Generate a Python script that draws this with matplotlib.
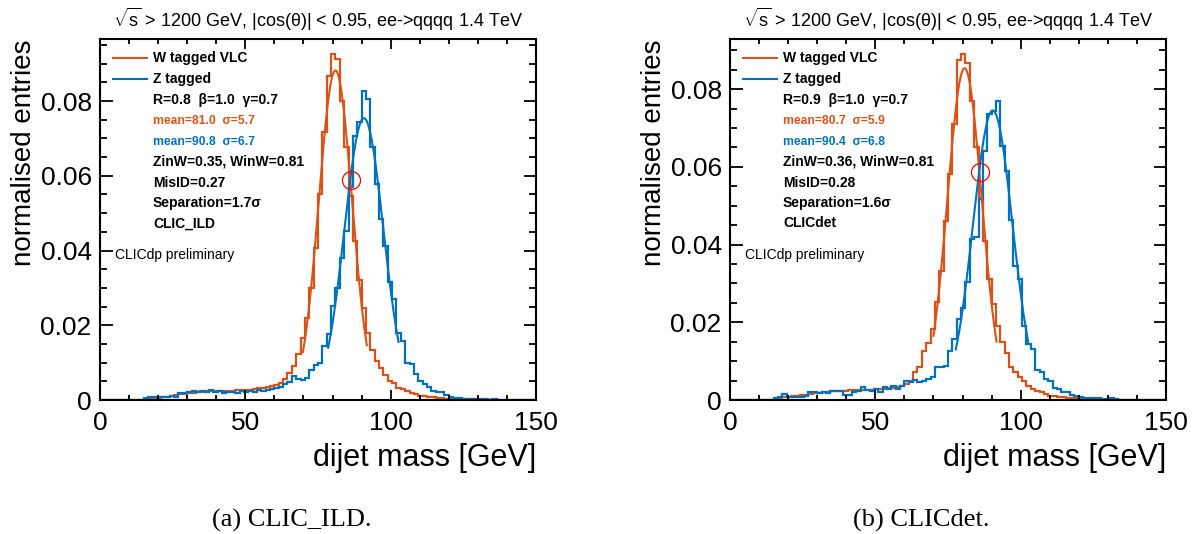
import numpy as np
import matplotlib
matplotlib.use("Agg")
import matplotlib.pyplot as plt
from matplotlib.ticker import MultipleLocator

plt.rcParams['font.family'] = ['Liberation Sans', 'DejaVu Sans']
plt.rcParams['mathtext.fontset'] = 'custom'
plt.rcParams['mathtext.rm'] = 'Liberation Sans'
plt.rcParams['mathtext.it'] = 'Liberation Sans:italic'
plt.rcParams['mathtext.bf'] = 'Liberation Sans:bold'

# ---------------- data ----------------
bin_edges = np.linspace(0, 150, 101)  # 100 bins of 1.5 GeV

W_ILD = [0]*10 + [
    0.0001, 0.0003, 0.0005, 0.0006, 0.0007, 0.0009, 0.0011, 0.0013, 0.0015, 0.0017,
    0.0018, 0.0020, 0.0021, 0.0022, 0.0023, 0.0024, 0.0024, 0.0024, 0.0025, 0.0025,
    0.0025, 0.0026, 0.0026, 0.0027, 0.0028, 0.0030, 0.0031, 0.0033, 0.0035, 0.0037,
    0.0040, 0.0046, 0.0055, 0.0073, 0.0092, 0.0122, 0.0166, 0.0220, 0.0301, 0.0408,
    0.0551, 0.0716, 0.0868, 0.0926, 0.0913, 0.0801, 0.0676, 0.0547, 0.0426, 0.0322,
    0.0247, 0.0180, 0.0135, 0.0104, 0.0086, 0.0068, 0.0051, 0.0046, 0.0033, 0.0029,
    0.0024, 0.0020, 0.0015, 0.0012, 0.0010, 0.0009, 0.0008, 0.0006, 0.0005, 0.0004,
    0.0004, 0.0003, 0.0003, 0.0002, 0.0002, 0.0002, 0.0001, 0.0001, 0.0001, 0.0001,
    0.0001, 0.0001, 0.0001, 0, 0, 0, 0, 0, 0, 0]

Z_ILD = [0]*10 + [
    0.0006, 0.0008, 0.0007, 0.0008, 0.0009, 0.0008, 0.0010, 0.0009, 0.0019, 0.0020,
    0.0021, 0.0024, 0.0022, 0.0023, 0.0021, 0.0026, 0.0022, 0.0024, 0.0020, 0.0021,
    0.0022, 0.0019, 0.0023, 0.0021, 0.0024, 0.0022, 0.0026, 0.0024, 0.0027, 0.0030,
    0.0033, 0.0036, 0.0042, 0.0048, 0.0065, 0.0055, 0.0053, 0.0058, 0.0080, 0.0093,
    0.0100, 0.0145, 0.0176, 0.0252, 0.0301, 0.0381, 0.0453, 0.0569, 0.0707, 0.0743,
    0.0828, 0.0806, 0.0676, 0.0578, 0.0483, 0.0412, 0.0315, 0.0270, 0.0180, 0.0158,
    0.0098, 0.0096, 0.0070, 0.0052, 0.0044, 0.0035, 0.0025, 0.0022, 0.0022, 0.0013,
    0.0008, 0.0006, 0.0005, 0.0004, 0.0003, 0.0003, 0.0002, 0.0003, 0.0002, 0.0001,
    0.0002, 0.0001, 0.0001, 0.0001, 0.0001, 0, 0.0001, 0, 0, 0]

W_DET = [0]*10 + [
    0.0001, 0.0004, 0.0007, 0.0009, 0.0010, 0.0011, 0.0012, 0.0014, 0.0016, 0.0018,
    0.0019, 0.0020, 0.0021, 0.0022, 0.0023, 0.0024, 0.0024, 0.0025, 0.0025, 0.0026,
    0.0026, 0.0027, 0.0027, 0.0028, 0.0028, 0.0029, 0.0030, 0.0031, 0.0033, 0.0036,
    0.0041, 0.0048, 0.0071, 0.0084, 0.0125, 0.0146, 0.0183, 0.0252, 0.0333, 0.0460,
    0.0582, 0.0710, 0.0876, 0.0891, 0.0867, 0.0770, 0.0650, 0.0521, 0.0410, 0.0312,
    0.0247, 0.0191, 0.0150, 0.0122, 0.0084, 0.0071, 0.0058, 0.0050, 0.0037, 0.0028,
    0.0024, 0.0020, 0.0016, 0.0011, 0.0010, 0.0008, 0.0007, 0.0006, 0.0005, 0.0004,
    0.0004, 0.0003, 0.0003, 0.0002, 0.0002, 0.0001, 0.0001, 0.0001, 0.0001, 0.0001,
    0.0001, 0.0001, 0.0001, 0, 0, 0, 0, 0, 0, 0]

Z_DET = [0]*10 + [
    0.0004, 0.0008, 0.0016, 0.0009, 0.0009, 0.0008, 0.0009, 0.0010, 0.0020, 0.0021,
    0.0019, 0.0020, 0.0019, 0.0022, 0.0023, 0.0024, 0.0013, 0.0014, 0.0021, 0.0022,
    0.0033, 0.0025, 0.0024, 0.0028, 0.0020, 0.0033, 0.0029, 0.0035, 0.0028, 0.0036,
    0.0050, 0.0046, 0.0052, 0.0046, 0.0050, 0.0054, 0.0060, 0.0084, 0.0084, 0.0088,
    0.0127, 0.0157, 0.0208, 0.0238, 0.0303, 0.0414, 0.0420, 0.0517, 0.0640, 0.0735,
    0.0745, 0.0770, 0.0654, 0.0590, 0.0462, 0.0346, 0.0312, 0.0191, 0.0144, 0.0131,
    0.0076, 0.0072, 0.0054, 0.0050, 0.0030, 0.0028, 0.0020, 0.0020, 0.0012, 0.0011,
    0.0008, 0.0006, 0.0005, 0.0004, 0.0004, 0.0003, 0.0002, 0.0004, 0.0002, 0.0001,
    0.0001, 0.0001, 0.0001, 0.0001, 0.0001, 0.0001, 0, 0, 0, 0]

# gaussian fit parameters: mean, sigma, amplitude, range lo, range hi
FIT_W_ILD = [81.0, 5.7, 0.0882, 69.8, 91.8]
FIT_Z_ILD = [90.8, 6.7, 0.0754, 78.5, 102.7]
FIT_W_DET = [80.7, 5.9, 0.0854, 70.0, 91.7]
FIT_Z_DET = [90.4, 6.8, 0.0745, 77.7, 102.6]

# crossing markers (x, y)
CROSS_ILD = [86.2, 0.0590]
CROSS_DET = [86.0, 0.0587]

YMAX = [0.0966, 0.0929]

TITLE = r"$\sqrt{\mathrm{s}}$ > 1200 GeV, |cos(θ)| < 0.95, ee->qqqq 1.4 TeV"
LEG_W = "W tagged VLC"
LEG_Z = "Z tagged"
INFO_ILD = ["R=0.8  β=1.0  γ=0.7", "mean=81.0  σ=5.7", "mean=90.8  σ=6.7",
            "ZinW=0.35, WinW=0.81", "MisID=0.27", "Separation=1.7σ", "CLIC_ILD"]
INFO_DET = ["R=0.9  β=1.0  γ=0.7", "mean=80.7  σ=5.9", "mean=90.4  σ=6.8",
            "ZinW=0.36, WinW=0.81", "MisID=0.28", "Separation=1.6σ", "CLICdet"]
CAPTIONS = ["(a) CLIC_ILD.", "(b) CLICdet."]

ORANGE = "#D95319"
BLUE = "#0072BD"

# ---------------- figure ----------------
W, H = 1195, 534
fig = plt.figure(figsize=(W/100, H/100), dpi=100)

panels = [
    dict(left=100, W_=W_ILD, Z_=Z_ILD, fw=FIT_W_ILD, fz=FIT_Z_ILD, cross=CROSS_ILD,
         ymax=YMAX[0], info=INFO_ILD, cap=CAPTIONS[0], capx=292),
    dict(left=730, W_=W_DET, Z_=Z_DET, fw=FIT_W_DET, fz=FIT_Z_DET, cross=CROSS_DET,
         ymax=YMAX[1], info=INFO_DET, cap=CAPTIONS[1], capx=921),
]

top_px, bot_px, width_px = 39, 400, 436

for p in panels:
    ax = fig.add_axes([p['left']/W, 1 - bot_px/H, width_px/W, (bot_px - top_px)/H])
    ax.stairs(p['W_'], bin_edges, color=ORANGE, lw=1.6)
    ax.stairs(p['Z_'], bin_edges, color=BLUE, lw=1.6)
    for fit, col in ((p['fw'], ORANGE), (p['fz'], BLUE)):
        m, s, a, lo, hi = fit
        xx = np.linspace(lo, hi, 200)
        ax.plot(xx, a*np.exp(-0.5*((xx - m)/s)**2), color=col, lw=1.5)
    ax.plot([p['cross'][0]], [p['cross'][1]], 'o', ms=13, mfc='none', mec='red', mew=0.9)

    ax.set_xlim(0, 150)
    ax.set_ylim(0, p['ymax'])
    ax.xaxis.set_major_locator(MultipleLocator(50))
    ax.xaxis.set_minor_locator(MultipleLocator(10))
    ax.yaxis.set_major_locator(MultipleLocator(0.02))
    ax.yaxis.set_minor_locator(MultipleLocator(0.005))
    ax.set_xticks([0, 50, 100, 150])
    ax.set_xticklabels(['0', '50', '100', '150'])
    ax.set_yticks([0, 0.02, 0.04, 0.06, 0.08])
    ax.set_yticklabels(['0', '0.02', '0.04', '0.06', '0.08'])
    ax.tick_params(which='both', direction='in', top=True, right=True, width=1.3, labelsize=19)
    ax.tick_params(axis='x', which='major', length=7.5, pad=8)
    ax.tick_params(axis='x', which='minor', length=3.8)
    ax.tick_params(axis='y', which='major', length=9, pad=6)
    ax.tick_params(axis='y', which='minor', length=5)
    for sp in ax.spines.values():
        sp.set_linewidth(1.5)

    ax.set_xlabel("dijet mass [GeV]", fontsize=22, loc='right')
    ax.xaxis.set_label_coords(1.0, -0.12)
    ax.set_ylabel("normalised entries", fontsize=20, loc='top')
    ax.yaxis.set_label_coords(-0.145, 1.0)

    ax.set_title(TITLE, fontsize=13, y=(bot_px - 27)/(bot_px - top_px), pad=0,
                 va='baseline')

    tr = ax.transAxes
    def yf(py):
        return (bot_px - py)/(bot_px - top_px)
    tx = 53/width_px
    # legend lines
    ax.plot([13/width_px, 47/width_px], [yf(58), yf(58)], color=ORANGE, lw=1.5, transform=tr)
    ax.plot([13/width_px, 47/width_px], [yf(79.3), yf(79.3)], color=BLUE, lw=1.5, transform=tr)
    ax.text(tx, yf(58), LEG_W, transform=tr, fontsize=10, fontweight='bold', va='center')
    ax.text(tx, yf(79.3), LEG_Z, transform=tr, fontsize=10, fontweight='bold', va='center')
    rows = [100, 121, 141.7, 161.7, 182.7, 203.3, 223.3]
    for k, (txt, py) in enumerate(zip(p['info'], rows)):
        col, fs = 'black', 10
        if k == 1:
            col, fs = ORANGE, 8.7
        elif k == 2:
            col, fs = BLUE, 8.7
        ax.text(tx, yf(py), txt, transform=tr, fontsize=fs, fontweight='bold',
                color=col, va='center')
    ax.text(15/width_px, yf(255), "CLICdp preliminary", transform=tr, fontsize=10, va='center')

    fig.text(p['capx']/W, 1 - 527/H, p['cap'], ha='center', va='baseline',
             fontsize=19, family='Liberation Serif')

fig.savefig("out.png", dpi=100)
